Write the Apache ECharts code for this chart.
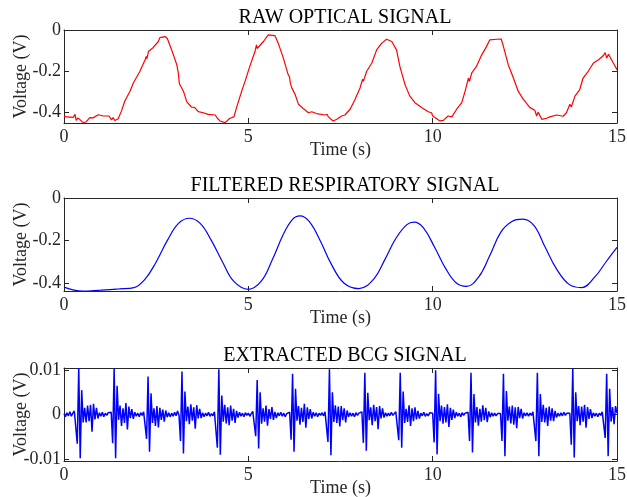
<!DOCTYPE html>
<html>
<head>
<meta charset="utf-8">
<script src="https://cdn.jsdelivr.net/npm/echarts@6.0.0/dist/echarts.min.js"></script>
<style>
  html, body { margin: 0; padding: 0; background: #fff; }
  #chart { width: 627px; height: 497px; }
</style>
</head>
<body>
<div id="chart"></div>
<script>
// raw optical signal (time s, voltage V)
const rawT = [0.00, 0.15, 0.25, 0.30, 0.33, 0.38, 0.52, 0.60, 0.70, 0.79, 0.93, 1.06, 1.22, 1.25, 1.29, 1.33, 1.38, 1.47,
  1.56, 1.65, 1.79, 1.88, 2.06, 2.20, 2.23, 2.25, 2.29, 2.42, 2.56, 2.60, 2.74, 2.80, 2.92, 3.06, 3.10, 3.13, 3.24,
  3.33, 3.46, 3.55, 3.64, 3.78, 3.91, 4.10, 4.16, 4.23, 4.37, 4.50, 4.61, 4.68, 4.82, 4.91, 5.04, 5.18, 5.22, 5.24,
  5.27, 5.41, 5.54, 5.72, 5.81, 5.95, 6.08, 6.12, 6.14, 6.18, 6.27, 6.36, 6.49, 6.63, 6.72, 6.85, 7.08, 7.14, 7.17,
  7.20, 7.30, 7.40, 7.53, 7.62, 7.76, 7.89, 8.03, 8.10, 8.12, 8.21, 8.35, 8.48, 8.62, 8.75, 8.89, 9.02, 9.11, 9.25,
  9.38, 9.52, 9.70, 9.88, 9.97, 10.00, 10.05, 10.20, 10.29, 10.42, 10.52, 10.65, 10.79, 10.88, 10.97, 11.00, 11.06,
  11.19, 11.33, 11.46, 11.55, 11.74, 11.86, 11.92, 12.05, 12.19, 12.32, 12.46, 12.64, 12.77, 12.82, 12.86, 12.96,
  13.09, 13.18, 13.22, 13.36, 13.54, 13.63, 13.72, 13.76, 13.86, 13.99, 14.08, 14.22, 14.36, 14.50, 14.63, 14.68,
  14.72, 14.77, 14.90, 15.00]
const rawV = [-0.422, -0.424, -0.426, -0.411, -0.440, -0.428, -0.451, -0.448, -0.427, -0.428, -0.413, -0.419, -0.419,
  -0.411, -0.438, -0.427, -0.441, -0.432, -0.394, -0.346, -0.298, -0.258, -0.201, -0.145, -0.129, -0.140, -0.105,
  -0.085, -0.056, -0.037, -0.032, -0.040, -0.097, -0.169, -0.210, -0.262, -0.298, -0.350, -0.375, -0.378, -0.398,
  -0.403, -0.411, -0.414, -0.430, -0.443, -0.451, -0.430, -0.423, -0.378, -0.298, -0.250, -0.177, -0.105, -0.072,
  -0.090, -0.081, -0.056, -0.024, -0.027, -0.064, -0.137, -0.217, -0.230, -0.260, -0.282, -0.314, -0.362, -0.382,
  -0.403, -0.398, -0.407, -0.414, -0.411, -0.423, -0.414, -0.443, -0.435, -0.419, -0.414, -0.386, -0.340, -0.282,
  -0.240, -0.250, -0.201, -0.161, -0.097, -0.064, -0.045, -0.056, -0.097, -0.177, -0.266, -0.322, -0.354, -0.378,
  -0.398, -0.403, -0.419, -0.411, -0.443, -0.440, -0.419, -0.423, -0.386, -0.354, -0.298, -0.234, -0.250, -0.209,
  -0.177, -0.121, -0.081, -0.048, -0.045, -0.044, -0.081, -0.169, -0.234, -0.298, -0.338, -0.378, -0.391, -0.419,
  -0.400, -0.435, -0.430, -0.423, -0.432, -0.414, -0.420, -0.403, -0.362, -0.375, -0.322, -0.290, -0.234, -0.201,
  -0.161, -0.145, -0.124, -0.110, -0.137, -0.118, -0.161, -0.193]

// filtered respiratory signal
const filtT = [0, 0.5, 1.0, 1.5, 1.9, 2.2, 2.5, 2.8, 3.1, 3.4, 3.7, 4.0, 4.3, 4.6, 5.0, 5.35, 5.65, 5.95, 6.2, 6.4,
  6.65, 6.95, 7.25, 7.6, 8.0, 8.4, 8.7, 9.0, 9.3, 9.5, 9.75, 10.05, 10.35, 10.65, 10.92, 11.25, 11.55, 11.85, 12.15,
  12.45, 12.75, 13.05, 13.35, 13.7, 14.04, 14.4, 14.7, 15.0]
const filtV = [-0.418, -0.437, -0.432, -0.426, -0.420, -0.380, -0.300, -0.200, -0.120, -0.095, -0.120, -0.200, -0.300,
  -0.390, -0.428, -0.390, -0.290, -0.170, -0.100, -0.084, -0.110, -0.200, -0.310, -0.400, -0.425, -0.380, -0.290,
  -0.190, -0.125, -0.113, -0.140, -0.230, -0.330, -0.400, -0.414, -0.370, -0.270, -0.160, -0.110, -0.099, -0.130,
  -0.230, -0.330, -0.405, -0.420, -0.370, -0.300, -0.231]

// extracted BCG, one sample every 0.04 s, in mV (one line per heart beat)
const BCG_DT = 0.04
const bcgMv = [
  0.2, -0.5, 0.4, -0.3, 0.6, -0.4, 0.3, 0.8,
  0.5, -6.6, 10.5, -9.9, 5.5, -1.8, 1.5, -1.8, 2.0, -1.5, 2.2, -3.9, 2.4, -1.1, 1.5, -0.9, 0.4, -0.4, 0.5, -0.5, 0.3, -0.2, 0.4, 0.7,
  0.5, -6.5, 10.4, -9.9, 6.5, -1.2, 2.0, -2.6, 1.4, -1.9, 2.6, -3.4, 1.8, -0.8, 1.2, -1.0, 0.5, -0.4, 0.3, -0.5, 0.4, -0.2, 0.6,
  0.7, -5.5, 8.6, -8.4, 4.8, -1.9, 1.4, -2.6, 1.9, -2.9, 1.5, -1.2, 1.1, -1.6, 0.9, -0.6, 0.4, -0.5, 0.3, -0.4, 0.5, -0.3, 0.8,
  -0.2, -6.0, 9.7, -8.8, 5.2, -1.5, 1.8, -2.2, 2.3, -1.4, 1.6, -3.2, 2.1, -0.9, 1.3, -0.8, 0.4, -0.5, 0.3, -0.3, 0.5, -0.4, 0.2, -0.3, 0.6,
  0.4, -7.5, 10.2, -9.1, 4.3, -1.6, 2.2, -2.0, 1.6, -2.4, 2.0, -1.4, 1.3, -1.9, 0.8, -0.7, 0.5, -0.4, 0.3, -0.5, 0.4, -0.2, 0.3, -0.4, 0.2, 0.7,
  0.3, -4.9, 7.8, -7.7, 5.0, -2.1, 1.4, -1.6, 2.0, -2.5, 1.2, -1.0, 1.7, -1.2, 0.6, -0.8, 0.4, -0.3, 0.5, -0.4, 0.3, -0.5, 0.2, 0.6,
  0.5, -5.7, 9.2, -8.4, 5.8, -1.4, 1.9, -2.3, 1.5, -1.7, 2.4, -3.0, 1.6, -1.0, 1.2, -0.9, 0.5, -0.4, 0.4, -0.5, 0.3, -0.2, 0.4, -0.3, 0.6,
  0.2, -6.2, 10.2, -9.2, 5.0, -1.7, 2.1, -1.9, 1.8, -2.7, 1.9, -1.3, 1.4, -1.8, 0.9, -0.5, 0.4, -0.4, 0.3, -0.5, 0.4, -0.2, 0.3, 0.5,
  0.6, -6.4, 9.4, -8.2, 4.9, -1.3, 1.6, -2.4, 2.2, -1.5, 1.7, -3.3, 1.9, -0.9, 1.4, -0.7, 0.4, -0.4, 0.3, -0.3, 0.5, -0.2, 0.2, 0.6,
  0.4, -5.8, 9.4, -7.5, 5.2, -1.9, 1.3, -1.7, 2.1, -2.6, 1.4, -1.5, 1.6, -1.1, 0.8, -0.9, 0.3, -0.3, 0.5, -0.4, 0.2, -0.3, 0.4, 0.6,
  0.3, -6.3, 10.0, -9.0, 4.7, -1.5, 2.0, -2.1, 1.7, -1.8, 2.3, -2.8, 1.5, -1.2, 1.1, -0.8, 0.5, -0.4, 0.3, -0.5, 0.4, -0.2, 0.3, 0.5,
  0.5, -6.0, 9.4, -8.6, 4.6, -1.8, 1.7, -2.5, 1.3, -1.6, 2.1, -1.3, 1.5, -1.7, 0.7, -0.6, 0.4, -0.4, 0.3, -0.3, 0.2, 0.6,
  0.2, -6.0, 9.2, -9.4, 5.3, -1.4, 1.8, -2.0, 2.0, -2.3, 1.6, -3.1, 1.7, -0.8, 1.3, -0.9, 0.4, -0.3, 0.4, -0.4, 0.3, -0.2, 0.6,
  0.4, -6.0, 9.4, -9.4, 4.6, -1.7, 2.2, -1.8, 1.5, -2.6, 1.8, -1.4, 1.4, -1.5, 0.8, -0.7, 0.3, -0.4, 0.4, -0.3, 0.5, -0.2, 0.3, 0.5,
  0.3, -6.8, 10.4, -9.7, 5.0, -1.5, 1.9, -2.4, 1.8, -1.6, 2.2, -3.0, 1.7, -1.0, 1.2, -0.8, 0.4, -0.4, 0.3, -0.5, 0.3, -0.2, 0.6,
  0.4, -5.3, 9.2, -9.4, 5.8, -1.6, 1.7, -2.2, 1.9, 0.3
]

const titles = ['RAW OPTICAL SIGNAL', 'FILTERED RESPIRATORY SIGNAL', 'EXTRACTED BCG SIGNAL']
const xTicks = [0, 5, 10, 15]
const yTicks = [[-0.4, -0.2, 0], [-0.4, -0.2, 0], [-0.01, 0, 0.01]]
const yRange = [[-0.453, 0], [-0.436, 0], [-0.0105, 0.0105]]

const FONT = 'Liberation Serif'
const AX = '#262626'
const tops = [30, 198, 368]
const titleTops = [3, 171, 341]

let chart = echarts.init(document.getElementById('chart'), null, { renderer: 'canvas' })

let grids = [], xAxes = [], yAxes = [], tls = []
tops.forEach((top, i) => {
  grids.push({ left: 64, top: top, width: 553, height: 93, show: false, containLabel: false, outerBoundsMode: 'none' })
  tls.push({
    text: titles[i], left: 340, top: titleTops[i], textAlign: 'center',
    textStyle: { fontFamily: FONT, fontSize: 20, fontWeight: 'normal', color: '#000' }
  })
  // bottom + top x axis (matlab box with ticks on both sides)
  ;['bottom', 'top'].forEach(pos => {
    xAxes.push({
      type: 'value', gridIndex: i, position: pos, min: 0, max: 15,
      axisLine: { show: true, onZero: false, lineStyle: { color: AX, width: 1 } },
      axisTick: { show: true, inside: true, length: 5, customValues: xTicks, lineStyle: { color: AX } },
      axisLabel: {
        show: pos === 'bottom', customValues: xTicks, margin: 5,
        fontFamily: FONT, fontSize: 18, color: AX
      },
      splitLine: { show: false },
      name: pos === 'bottom' ? 'Time (s)' : '',
      nameLocation: 'middle', nameGap: 18, nameMoveOverlap: false,
      nameTextStyle: { fontFamily: FONT, fontSize: 18, color: AX }
    })
  })
  ;['left', 'right'].forEach(pos => {
    yAxes.push({
      type: 'value', gridIndex: i, position: pos, min: yRange[i][0], max: yRange[i][1],
      axisLine: { show: true, onZero: false, lineStyle: { color: AX, width: 1 } },
      axisTick: { show: true, inside: true, length: 5, customValues: yTicks[i], lineStyle: { color: AX } },
      axisLabel: {
        show: pos === 'left', customValues: yTicks[i], margin: 3,
        fontFamily: FONT, fontSize: 18, color: AX
      },
      splitLine: { show: false },
      name: pos === 'left' ? 'Voltage (V)' : '',
      nameLocation: 'middle', nameGap: 34, nameRotate: 90, nameMoveOverlap: false,
      nameTextStyle: { fontFamily: FONT, fontSize: 18, color: AX }
    })
  })
})

let option = {
  animation: false,
  backgroundColor: '#fff',
  title: tls,
  grid: grids,
  xAxis: xAxes,
  yAxis: yAxes,
  series: [
    {
      type: 'line', xAxisIndex: 0, yAxisIndex: 0, showSymbol: false,
      data: rawT.map((t, k) => [t, rawV[k]]),
      lineStyle: { color: '#ff0000', width: 1.2 }
    },
    {
      type: 'line', xAxisIndex: 2, yAxisIndex: 2, showSymbol: false, smooth: 0.4,
      data: filtT.map((t, k) => [t, filtV[k]]),
      lineStyle: { color: '#0000ff', width: 1.2 }
    },
    {
      type: 'line', xAxisIndex: 4, yAxisIndex: 4, showSymbol: false,
      data: bcgMv.map((v, k) => [+(k * BCG_DT).toFixed(2), v / 1000]),
      lineStyle: { color: '#0000ff', width: 1.5 }
    }
  ]
}
chart.setOption(option)
</script>
</body>
</html>
